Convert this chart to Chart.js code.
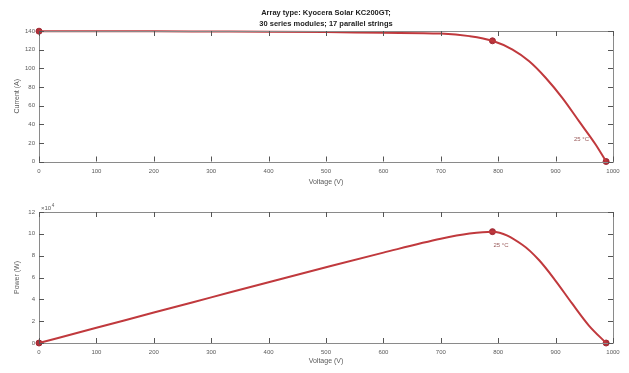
<!DOCTYPE html>
<html>
<head>
<meta charset="utf-8">
<script src="https://cdn.jsdelivr.net/npm/chart.js@4/dist/chart.umd.min.js"></script>
<style>
  html, body { margin: 0; padding: 0; background: #ffffff; }
  body { width: 629px; height: 373px; position: relative; overflow: hidden; }
  canvas { position: absolute; left: 0; }
</style>
</head>
<body>
<canvas id="c1" width="629" height="186" style="top:0px"></canvas>
<canvas id="c2" width="629" height="187" style="top:186px"></canvas>
<script>
// ---- Data ----
const titleLines = ["Array type: Kyocera Solar KC200GT;", "30 series modules; 17 parallel strings"];
const xTicks = [0, 100, 200, 300, 400, 500, 600, 700, 800, 900, 1000];
const currentTicks = [0, 20, 40, 60, 80, 100, 120, 140];
const powerTicks = [0, 2, 4, 6, 8, 10, 12];

const voltageIV = [0, 100, 200, 300, 400, 500, 600, 700, 750, 790, 825, 854, 883, 912, 941, 970, 988];
const currentIV = [139.8, 139.7, 139.6, 139.4, 139.2, 138.8, 138.0, 137.2, 134.5, 129.5, 120, 107.5, 89.6, 68, 43, 18, 0];

const voltageP = [0, 100, 200, 300, 400, 500, 600, 700, 750, 790, 842, 871, 900, 929, 958, 988];
const powerP = [0, 1.39, 2.79, 4.18, 5.57, 6.94, 8.28, 9.55, 10.02, 10.2, 9.0, 7.6, 5.7, 3.6, 1.6, 0];   // x 10^4 W

const keyVoltage = [0, 790, 988];
const keyCurrent = [139.8, 129.5, 0];
const keyPower = [0, 10.2, 0];

const tempLabel = "25 \u00B0C";

// ---- helpers ----
const RED = '#c0393d';
const AXIS = '#8a8a8a';
const TXT = '#5a5a5a';
const FONT = "'Liberation Sans', Arial, sans-serif";

function pts(xs, ys) { return xs.map((x, i) => ({ x: x, y: ys[i] })); }

const boxTicks = {
  id: 'boxTicks',
  afterDatasetsDraw(chart, args, opts) {
    const ctx = chart.ctx, a = chart.chartArea;
    const xs = chart.scales.x, ys = chart.scales.y;
    ctx.save();
    ctx.strokeStyle = AXIS;
    ctx.lineWidth = 1;
    ctx.beginPath();
    ctx.rect(Math.round(a.left) + 0.5, Math.round(a.top) + 0.5, Math.round(a.right - a.left), Math.round(a.bottom - a.top));
    ctx.stroke();
    ctx.strokeStyle = '#555';
    ctx.beginPath();
    xs.ticks.forEach(t => {
      const px = Math.round(xs.getPixelForValue(t.value)) + 0.5;
      ctx.moveTo(px, a.bottom); ctx.lineTo(px, a.bottom - 5);
      ctx.moveTo(px, a.top); ctx.lineTo(px, a.top + 5);
    });
    ys.ticks.forEach(t => {
      const py = Math.round(ys.getPixelForValue(t.value)) + 0.5;
      ctx.moveTo(a.left, py); ctx.lineTo(a.left + 5, py);
      ctx.moveTo(a.right, py); ctx.lineTo(a.right - 5, py);
    });
    ctx.stroke();
    if (opts.titleLines) {
      ctx.fillStyle = '#222';
      ctx.font = 'bold 7.5px ' + FONT;
      ctx.textAlign = 'center';
      ctx.textBaseline = 'middle';
      const cx = (a.left + a.right) / 2;
      opts.titleLines.forEach((line, i) => ctx.fillText(line, cx, 12.5 + i * 11.5));
    }
    if (opts.label) {
      ctx.fillStyle = '#9a5a5a';
      ctx.font = '6px ' + FONT;
      ctx.textAlign = 'center';
      ctx.textBaseline = 'middle';
      const lx = xs.getPixelForValue(opts.label.x), ly = ys.getPixelForValue(opts.label.y);
      ctx.fillText(opts.label.text, lx, ly);
    }
    if (opts.exponent) {
      ctx.fillStyle = TXT;
      ctx.textAlign = 'left';
      ctx.textBaseline = 'alphabetic';
      ctx.font = '6px ' + FONT;
      ctx.fillText('\u00D710', a.left + 2, a.top - 2);
      const w = ctx.measureText('\u00D710').width;
      ctx.font = '4.5px ' + FONT;
      ctx.fillText('4', a.left + 2 + w + 0.5, a.top - 5);
    }
    ctx.restore();
  }
};

function makeOptions(cfg) {
  return {
    responsive: false,
    animation: false,
    layout: { padding: { left: 13, right: 16, top: cfg.padTop, bottom: cfg.padBottom } },
    plugins: {
      legend: { display: false },
      tooltip: { enabled: false },
      title: { display: false },
      boxTicks: { label: cfg.label, exponent: cfg.exponent, titleLines: cfg.title ? titleLines : null }
    },
    scales: {
      x: {
        type: 'linear',
        min: 0, max: 1000,
        afterBuildTicks: s => { s.ticks = xTicks.map(v => ({ value: v })); },
        afterFit: s => { s.height = cfg.xHeight; },
        grid: { display: false, drawOnChartArea: false, drawTicks: false },
        border: { display: false },
        ticks: { color: TXT, font: { family: FONT, size: 6 }, padding: 6, maxRotation: 0, callback: v => String(v) },
        title: { display: true, text: 'Voltage (V)', color: TXT, font: { family: FONT, size: 7 }, padding: { top: 2, bottom: 0 } }
      },
      y: {
        type: 'linear',
        min: cfg.ymin, max: cfg.ymax,
        afterBuildTicks: s => { s.ticks = cfg.yTicks.map(v => ({ value: v })); },
        afterFit: s => { s.width = 26; },
        grid: { display: false, drawOnChartArea: false, drawTicks: false },
        border: { display: false },
        ticks: { color: TXT, font: { family: FONT, size: 6 }, padding: 4, callback: v => String(v) },
        title: { display: true, text: cfg.yTitle, color: TXT, font: { family: FONT, size: 7 }, padding: { top: 0, bottom: 2 } }
      }
    }
  };
}

new Chart(document.getElementById('c1'), {
  type: 'line',
  data: {
    datasets: [
      { data: pts(voltageIV, currentIV), borderColor: RED, borderWidth: 2, pointRadius: 0, cubicInterpolationMode: 'monotone', fill: false, clip: false },
      { data: pts(keyVoltage, keyCurrent), showLine: false, pointRadius: 3, pointBackgroundColor: '#b0303a', pointBorderColor: '#a02a33', pointBorderWidth: 1, clip: false }
    ]
  },
  options: makeOptions({ title: true, padTop: 31, padBottom: 0, xHeight: 24.5, ymin: 0, ymax: 140, yTicks: currentTicks, yTitle: 'Current (A)', label: { x: 945, y: 24, text: tempLabel } }),
  plugins: [boxTicks]
});

new Chart(document.getElementById('c2'), {
  type: 'line',
  data: {
    datasets: [
      { data: pts(voltageP, powerP), borderColor: RED, borderWidth: 2, pointRadius: 0, cubicInterpolationMode: 'monotone', fill: false, clip: false },
      { data: pts(keyVoltage, keyPower), showLine: false, pointRadius: 3, pointBackgroundColor: '#b0303a', pointBorderColor: '#a02a33', pointBorderWidth: 1, clip: false }
    ]
  },
  options: makeOptions({ title: false, padTop: 26, padBottom: 8, xHeight: 22, ymin: 0, ymax: 12, yTicks: powerTicks, yTitle: 'Power (W)', label: { x: 805, y: 8.9, text: tempLabel }, exponent: true }),
  plugins: [boxTicks]
});
</script>
</body>
</html>
